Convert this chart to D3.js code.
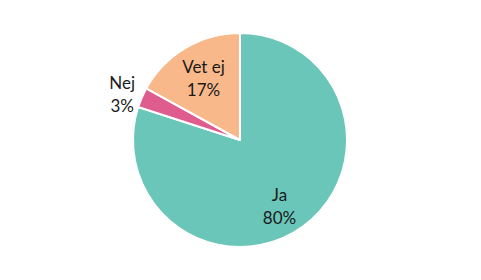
<!DOCTYPE html>
<html><head><meta charset="utf-8">
<script src="https://cdn.jsdelivr.net/npm/d3@7"></script>
<style>body{margin:0;background:#fff}svg{display:block}</style>
</head><body>
<script>
const categories = ["Ja", "Nej", "Vet ej"];
const values = [80, 3, 17];
const labels = ["80%", "3%", "17%"];
const colors = ["#69C6B9", "#DE5C8E", "#F9B88A"];

const W = 481, H = 280, cx = 240, cy = 140, R = 107;
const svg = d3.select("body").append("svg").attr("width", W).attr("height", H);
const g = svg.append("g").attr("transform", `translate(${cx},${cy})`);
const data = categories.map((c, i) => ({c, v: values[i], l: labels[i], col: colors[i]}));
const pie = d3.pie().value(d => d.v).sort(null);
const arcs = pie(data);
const arc = d3.arc().innerRadius(0).outerRadius(R);
g.selectAll("path").data(arcs).join("path")
  .attr("d", arc).attr("fill", d => d.data.col)
  .attr("stroke", "#fff").attr("stroke-width", 2).attr("stroke-linejoin", "round");

// label radius factors (inside for big slices, outside for the small one)
const rf = {"Ja": 0.72, "Nej": 1.18, "Vet ej": 0.67};
const angShift = {"Ja": 0.09, "Nej": -0.04, "Vet ej": 0};
const pos = arcs.map(a => {
  const r = R * rf[a.data.c];
  const m = (a.startAngle + a.endAngle) / 2 + angShift[a.data.c];
  return [Math.sin(m) * r, -Math.cos(m) * r];
});
const lh = 23;
const t = g.selectAll("text.lab").data(arcs).join("text")
  .attr("class", "lab")
  .attr("font-family", "Lato, 'Open Sans', sans-serif")
  .attr("font-size", 17).attr("fill", "#1a1a1a").attr("text-anchor", "middle")
  .attr("transform", (d, i) => `translate(${pos[i][0]},${pos[i][1] - 5.5})`);
t.append("tspan").attr("x", 0).attr("y", 0).text(d => d.data.c);
t.append("tspan").attr("x", 0).attr("y", lh).text(d => d.data.l);
</script>
</body></html>
